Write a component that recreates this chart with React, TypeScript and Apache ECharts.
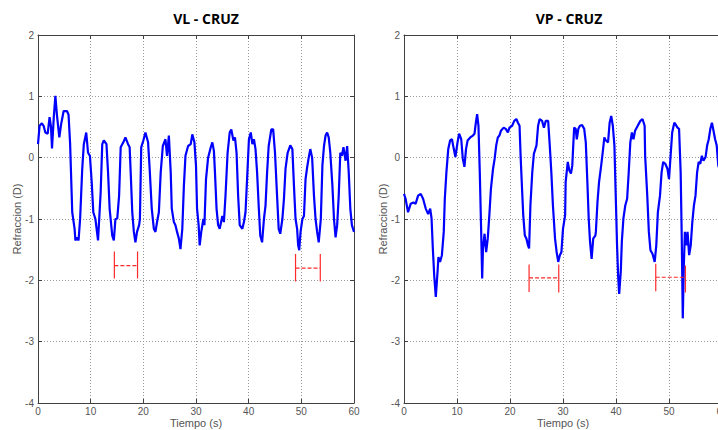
import React, { useEffect, useRef } from "react";
import * as echarts from "echarts";

// ---- Data (time in s, refraction in D) ----
const titles = ["VL - CRUZ", "VP - CRUZ"];
const xTicks = [0, 10, 20, 30, 40, 50, 60];
const yTicks = [-4, -3, -2, -1, 0, 1, 2];

const vlPoints: [number, number][] = [
  [0, 0.22], [0.3, 0.52], [0.74, 0.56], [1.06, 0.52], [1.4, 0.41], [1.84, 0.39], [2.2, 0.66], [2.47, 0.5],
  [2.66, 0.15], [3.0, 0.66], [3.3, 1.01], [3.6, 0.69], [4.05, 0.33], [4.4, 0.55], [4.87, 0.76], [5.5, 0.76],
  [5.8, 0.7], [6.1, 0.22], [6.5, -0.89], [6.95, -1.16], [7.1, -1.35], [7.4, -1.3], [7.7, -1.35], [8.0, -0.99],
  [8.4, -0.18], [8.7, 0.22], [9.16, 0.41], [9.5, 0.08], [9.86, 0.03], [10.2, -0.4], [10.5, -0.89], [10.9, -1.0],
  [11.4, -1.35], [11.9, -0.56], [12.2, 0.22], [12.5, 0.28], [13.0, 0.22], [13.3, -0.24], [13.6, -0.83],
  [14.1, -1.27], [14.4, -1.35], [14.7, -1.0], [15.05, -0.99], [15.4, -0.62], [15.7, 0.17], [16.2, 0.25],
  [16.6, 0.33], [17.1, 0.22], [17.4, 0.17], [17.6, -0.24], [17.9, -0.89], [18.2, -1.21], [18.5, -1.38],
  [18.8, -1.21], [19.2, -1.1], [19.35, -1.0], [19.6, 0.17], [20.0, 0.28], [20.4, 0.41], [20.9, 0.25],
  [21.2, -0.18], [21.6, -0.83], [22.0, -1.16], [22.3, -1.21], [22.6, -1.05], [22.95, -0.89], [23.3, -0.24],
  [23.7, 0.19], [24.2, 0.3], [24.5, 0.03], [24.85, 0.36], [25.2, -0.24], [25.4, -0.83], [25.8, -1.05],
  [26.1, -1.1], [26.4, -1.21], [26.75, -1.32], [27.05, -1.49], [27.4, -1.16], [27.7, -0.46], [28.0, 0.03],
  [28.5, 0.19], [29.0, 0.22], [29.3, 0.38], [29.7, 0.25], [30.0, -0.13], [30.2, -0.83], [30.5, -1.1],
  [30.7, -1.43], [31.0, -1.21], [31.4, -1.0], [31.6, -1.1], [31.9, -0.35], [32.3, 0], [32.8, 0.17],
  [33.1, 0.25], [33.4, 0.11], [33.6, -0.24], [33.9, -0.83], [34.2, -1.1], [34.5, -1.16], [35.0, -0.95],
  [35.3, -1.05], [35.6, -0.62], [36.0, 0.08], [36.4, 0.41], [36.7, 0.46], [37.1, 0.28], [37.4, 0.33],
  [37.7, 0.08], [38.0, -0.62], [38.3, -1.1], [38.8, -1.16], [39.1, -1.05], [39.4, -0.89], [39.7, -0.35],
  [40.05, 0.3], [40.4, 0.41], [40.7, 0.22], [41.0, 0.3], [41.3, 0.14], [41.6, -0.24], [41.9, -0.78],
  [42.2, -1.27], [42.55, -1.38], [42.9, -1.0], [43.2, -0.78], [43.5, -0.24], [43.8, 0.19], [44.3, 0.46],
  [44.65, 0.46], [45.0, 0.08], [45.3, -0.46], [45.7, -1.16], [46.0, -1.24], [46.4, -1.0], [46.7, -0.67],
  [47.0, -0.18], [47.4, 0.08], [47.9, 0.2], [48.3, 0.14], [48.6, -0.46], [48.9, -1.0], [49.2, -1.16],
  [49.4, -1.43], [49.6, -1.51], [49.85, -1.21], [50.2, -1.0], [50.5, -0.95], [50.8, -0.35], [51.1, -0.16],
  [51.4, 0], [51.7, 0.14], [52.05, 0], [52.4, -0.62], [52.7, -1.0], [53.0, -1.21], [53.3, -1.38],
  [53.7, -1.0], [54.0, -0.13], [54.3, 0.19], [54.6, 0.36], [54.9, 0.41], [55.2, 0.33], [55.5, 0.08],
  [55.9, -0.46], [56.2, -1.0], [56.5, -1.3], [56.8, -1.1], [57.1, -0.62], [57.4, 0.08], [57.7, 0.03],
  [58.0, 0.17], [58.4, -0.05], [58.7, 0.19], [59.0, -0.24], [59.3, -0.83], [59.6, -1.1], [60.0, -1.21],
];

const vpPoints: [number, number][] = [
  [0, -0.59], [0.3, -0.67], [0.76, -0.89], [1.27, -0.75], [1.77, -0.73], [2.2, -0.75], [2.66, -0.62],
  [3.16, -0.59], [3.6, -0.67], [4.1, -0.83], [4.56, -0.92], [4.94, -0.83], [5.2, -0.99], [5.44, -1.48],
  [5.7, -1.92], [6.0, -2.27], [6.33, -1.86], [6.5, -1.62], [6.8, -1.7], [7.15, -1.59], [7.5, -1.21],
  [7.7, -0.67], [8.0, -0.24], [8.35, 0.14], [8.7, 0.28], [9.05, 0.3], [9.4, 0.14], [9.7, 0.01], [10.1, 0.25],
  [10.4, 0.39], [10.8, 0.3], [11.1, -0.02], [11.4, -0.15], [11.7, 0.14], [12.0, 0.28], [12.5, 0.33],
  [13.0, 0.36], [13.3, 0.39], [13.6, 0.6], [13.8, 0.71], [14.05, 0.52], [14.3, -0.24], [14.55, -1.16],
  [14.75, -1.97], [14.9, -1.48], [15.2, -1.24], [15.5, -1.54], [15.8, -1.32], [16.1, -0.94], [16.4, -0.51],
  [16.8, -0.18], [17.1, -0.02], [17.4, 0.2], [17.7, 0.33], [18.0, 0.36], [18.3, 0.44], [18.8, 0.49],
  [19.2, 0.47], [19.6, 0.41], [19.9, 0.49], [20.4, 0.52], [20.8, 0.6], [21.2, 0.63], [21.5, 0.57],
  [21.8, 0.52], [22.0, 0.03], [22.3, -0.56], [22.5, -0.94], [22.8, -1.27], [23.1, -1.32], [23.4, -1.43],
  [23.6, -1.48], [23.85, -0.78], [24.2, -0.24], [24.5, 0.06], [25.0, 0.2], [25.3, 0.52], [25.6, 0.63],
  [26.05, 0.6], [26.4, 0.49], [26.75, 0.6], [27.2, 0.6], [27.5, 0.2], [27.8, -0.24], [28.1, -0.78],
  [28.5, -1.32], [28.8, -1.54], [29.1, -1.7], [29.4, -1.59], [29.7, -1.54], [30.0, -1.16], [30.4, -0.94],
  [30.5, -0.4], [30.9, -0.07], [31.2, -0.21], [31.5, -0.26], [31.75, -0.13], [32.1, 0.49], [32.4, 0.47],
  [32.6, 0.3], [32.9, 0.47], [33.2, 0.52], [33.6, 0.53], [34.0, 0.47], [34.3, 0.25], [34.6, -0.4],
  [34.85, -0.99], [35.1, -1.37], [35.4, -1.65], [35.7, -1.32], [36.1, -1.27], [36.2, -1.21], [36.5, -0.73],
  [36.8, -0.4], [37.2, -0.13], [37.5, 0.09], [37.8, 0.33], [38.1, 0.28], [38.5, 0.25], [38.8, 0.57],
  [39.1, 0.68], [39.4, 0.52], [39.7, 0.2], [40.0, -0.78], [40.2, -1.43], [40.4, -1.92], [40.6, -2.22],
  [40.9, -1.86], [41.1, -1.37], [41.4, -0.99], [41.75, -0.78], [42.1, -0.67], [42.4, -0.24], [42.7, 0.25],
  [43.0, 0.41], [43.3, 0.3], [43.6, 0.44], [44.1, 0.52], [44.6, 0.6], [45.0, 0.63], [45.4, 0.52],
  [45.5, 0.03], [45.9, -0.62], [46.2, -1.21], [46.5, -1.51], [46.9, -1.57], [47.3, -1.7], [47.6, -1.43],
  [47.9, -0.89], [48.3, -0.62], [48.6, -0.24], [48.9, -0.07], [49.3, -0.1], [49.7, -0.18], [50.0, -0.35],
  [50.3, 0.03], [50.6, 0.41], [51.0, 0.57], [51.2, 0.55], [51.6, 0.49], [51.9, 0.47], [52.2, -0.24],
  [52.4, -1.27], [52.6, -2.62], [52.8, -1.75], [53.0, -1.21], [53.3, -1.43], [53.5, -1.21], [53.8, -1.59],
  [54.1, -1.43], [54.4, -1.05], [54.7, -0.78], [55.0, -0.62], [55.3, -0.24], [55.6, -0.07], [55.9, -0.1],
  [56.2, 0.03], [56.5, -0.05], [56.9, 0.01], [57.2, 0.2], [57.5, 0.3], [57.8, 0.47], [58.1, 0.57],
  [58.4, 0.44], [58.7, 0.3], [59.0, 0.2], [59.3, -0.13], [59.6, -0.2],
];

// bracket markers: vertical ticks [x, yTop, yBottom], dashed spans [x1, x2, y]
const vlTicks: [number, number, number][] = [
  [14.5, -1.53, -1.97], [18.9, -1.53, -1.97], [48.9, -1.57, -2.02], [53.6, -1.57, -2.02],
];
const vlSpans: [number, number, number][] = [[14.5, 18.9, -1.76], [48.9, 53.6, -1.8]];
const vpTicks: [number, number, number][] = [
  [23.6, -1.74, -2.19], [29.2, -1.74, -2.2], [47.5, -1.73, -2.18], [53.1, -1.76, -2.2],
];
const vpSpans: [number, number, number][] = [[23.6, 29.2, -1.96], [47.5, 53.1, -1.95]];

const AXIS = "#404040";
const LABEL = "#555";
const FONT = "'Liberation Sans', Arial, sans-serif";

export default function App() {
  const ref = useRef<HTMLDivElement>(null);

  useEffect(() => {
    if (!ref.current) return;
    const chart = echarts.init(ref.current, undefined, { renderer: "svg" });

    const grids = [
      { left: 38, top: 35, width: 316, height: 368, outerBoundsMode: "none", containLabel: false },
      { left: 404, top: 35, width: 318, height: 368, outerBoundsMode: "none", containLabel: false },
    ];

    const xAxes: any[] = [];
    const yAxes: any[] = [];
    grids.forEach((_, i) => {
      xAxes.push({
        type: "value", gridIndex: i, position: "bottom",
        min: xTicks[0], max: xTicks[xTicks.length - 1], interval: 10,
        name: "Tiempo (s)", nameLocation: "middle", nameGap: 14, nameMoveOverlap: false,
        nameTextStyle: { color: LABEL, fontSize: 11, fontFamily: FONT },
        axisLine: { show: true, onZero: false, lineStyle: { color: AXIS, width: 1 } },
        axisTick: { show: true, inside: true, length: 4, lineStyle: { color: AXIS } },
        axisLabel: { color: LABEL, fontSize: 10, fontFamily: FONT, margin: 3, hideOverlap: false },
        splitLine: { show: true, lineStyle: { color: "#999", type: [1, 2], width: 1 } },
      });
      xAxes.push({
        type: "value", gridIndex: i, position: "top",
        min: xTicks[0], max: xTicks[xTicks.length - 1], interval: 10,
        axisLine: { show: true, onZero: false, lineStyle: { color: AXIS, width: 1 } },
        axisTick: { show: true, inside: true, length: 4, lineStyle: { color: AXIS } },
        axisLabel: { show: false },
        splitLine: { show: false },
      });
      yAxes.push({
        type: "value", gridIndex: i, position: "left",
        min: yTicks[0], max: yTicks[yTicks.length - 1], interval: 1,
        name: "Refraccion (D)", nameLocation: "middle", nameGap: 16, nameRotate: 90, nameMoveOverlap: false,
        nameTextStyle: { color: LABEL, fontSize: 11, fontFamily: FONT },
        axisLine: { show: true, onZero: false, lineStyle: { color: AXIS, width: 1 } },
        axisTick: { show: true, inside: true, length: 4, lineStyle: { color: AXIS } },
        axisLabel: { color: LABEL, fontSize: 10, fontFamily: FONT, margin: 4 },
        splitLine: { show: true, lineStyle: { color: "#999", type: [1, 2], width: 1 } },
      });
      yAxes.push({
        type: "value", gridIndex: i, position: "right",
        min: yTicks[0], max: yTicks[yTicks.length - 1], interval: 1,
        axisLine: { show: true, onZero: false, lineStyle: { color: AXIS, width: 1 } },
        axisTick: { show: true, inside: true, length: 4, lineStyle: { color: AXIS } },
        axisLabel: { show: false },
        splitLine: { show: false },
      });
    });

    const series: any[] = [];
    const dataSets = [vlPoints, vpPoints];
    const tickSets = [vlTicks, vpTicks];
    const spanSets = [vlSpans, vpSpans];
    dataSets.forEach((pts, i) => {
      series.push({
        type: "line", xAxisIndex: i * 2, yAxisIndex: i * 2, data: pts,
        showSymbol: false, symbol: "none", silent: true,
        lineStyle: { color: "#0000ff", width: 2.2 }, z: 2,
      });
      tickSets[i].forEach(([x, y1, y2]) => {
        series.push({
          type: "line", xAxisIndex: i * 2, yAxisIndex: i * 2,
          data: [[x, y1], [x, y2]], showSymbol: false, symbol: "none", silent: true,
          lineStyle: { color: "#ff2a2a", width: 1.2 }, z: 3,
        });
      });
      spanSets[i].forEach(([x1, x2, y]) => {
        series.push({
          type: "line", xAxisIndex: i * 2, yAxisIndex: i * 2,
          data: [[x1, y], [x2, y]], showSymbol: false, symbol: "none", silent: true,
          lineStyle: { color: "#ff2a2a", width: 1.2, type: [4, 2] }, z: 3,
        });
      });
    });

    chart.setOption({
      animation: false,
      backgroundColor: "#ffffff",
      grid: grids,
      xAxis: xAxes,
      yAxis: yAxes,
      series,
      graphic: [
        {
          type: "text", x: 206, y: 18,
          style: {
            text: titles[0], textAlign: "center", textVerticalAlign: "middle",
            fontSize: 14, fontWeight: "bold", fontFamily: "'Open Sans', sans-serif", fill: "#000",
          },
        },
        {
          type: "text", x: 569, y: 18,
          style: {
            text: titles[1], textAlign: "center", textVerticalAlign: "middle",
            fontSize: 14, fontWeight: "bold", fontFamily: "'Open Sans', sans-serif", fill: "#000",
          },
        },
      ],
    });

    return () => chart.dispose();
  }, []);

  return (
    <div style={{ position: "fixed", left: 0, top: 0, width: 718, height: 430, overflow: "hidden", background: "#fff" }}>
      <div ref={ref} style={{ width: 718, height: 430 }} />
    </div>
  );
}
